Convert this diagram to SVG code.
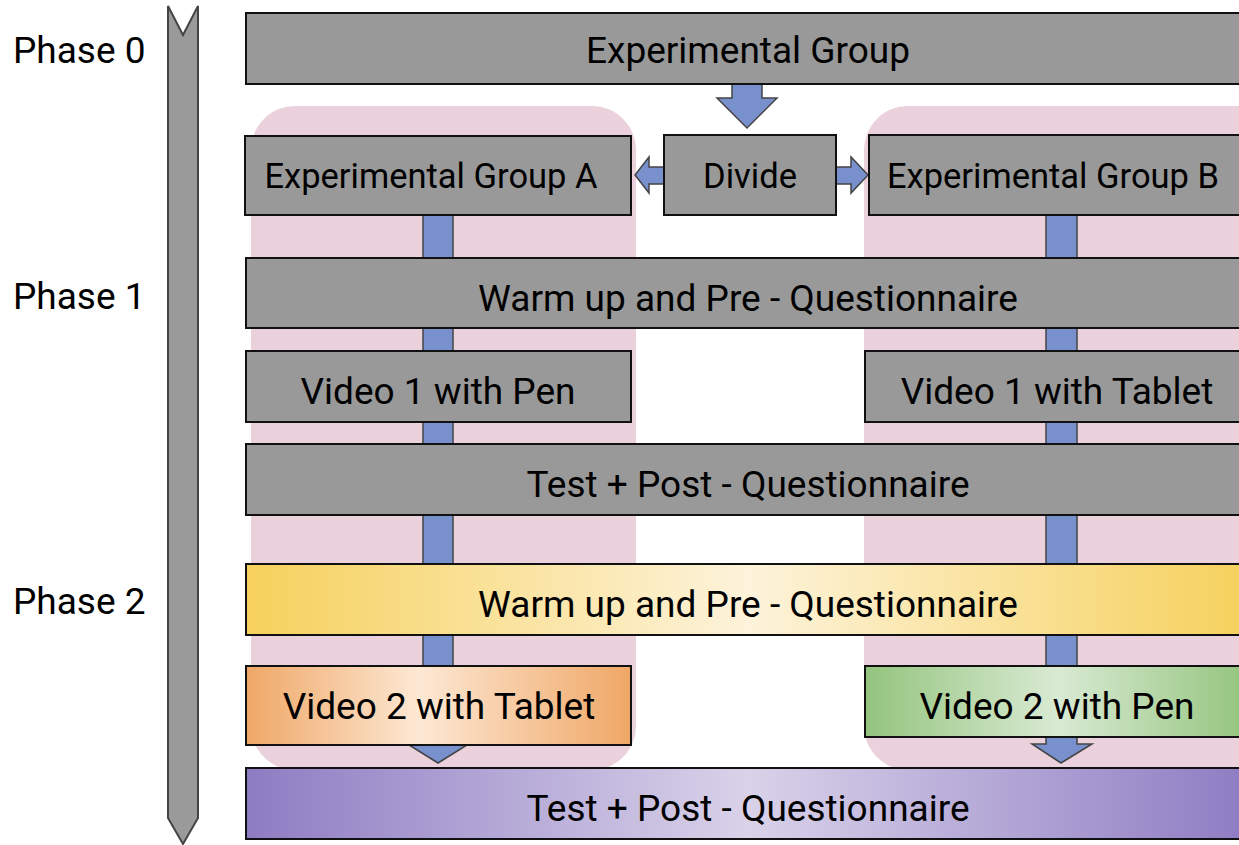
<svg xmlns="http://www.w3.org/2000/svg" width="1239" height="845" viewBox="0 0 1239 845">
<style>
.box{stroke:#111;stroke-width:2}
.gray{fill:#999999}
.lane{fill:#ead1dc}
.arr{fill:#7890cc;stroke:#444;stroke-width:1.5;stroke-linejoin:miter}
text{font-family:Roboto,"Liberation Sans",sans-serif;font-size:37px;fill:#000;text-anchor:middle;dominant-baseline:central}
.sm{font-size:34.5px}
.ph{text-anchor:start}
</style>
<defs>
<linearGradient id="gY" x1="0" x2="1" y1="0" y2="0">
<stop offset="0" stop-color="#f6d15c"/><stop offset="0.5" stop-color="#fdf3db"/><stop offset="1" stop-color="#f6d15c"/>
</linearGradient>
<linearGradient id="gO" x1="0" x2="1" y1="0" y2="0">
<stop offset="0" stop-color="#efa766"/><stop offset="0.45" stop-color="#fde8d4"/><stop offset="1" stop-color="#efa766"/>
</linearGradient>
<linearGradient id="gG" x1="0" x2="1" y1="0" y2="0">
<stop offset="0" stop-color="#93c47d"/><stop offset="0.5" stop-color="#d9ead3"/><stop offset="1" stop-color="#93c47d"/>
</linearGradient>
<linearGradient id="gP" x1="0" x2="1" y1="0" y2="0">
<stop offset="0" stop-color="#8e7cc3"/><stop offset="0.5" stop-color="#d9d2e9"/><stop offset="1" stop-color="#8e7cc3"/>
</linearGradient>
</defs>

<g id="timeline">
<path d="M168,6 L183,35 L198,6 L198,818 L183,844 L168,818 Z" fill="#9a9a9a" stroke="#444" stroke-width="2"/>
</g>
<g id="phase-labels">
<text class="ph" x="13" y="50">Phase 0</text>
<text class="ph" x="13" y="296">Phase 1</text>
<text class="ph" x="13" y="601">Phase 2</text>
</g>

<g id="lanes">
<rect class="lane" x="251" y="106" width="385" height="664" rx="44"/>
<rect class="lane" x="864" y="106" width="420" height="664" rx="44"/>
</g>

<g id="connectors">
<path class="arr" d="M732,84 L762,84 L762,98 L777,98 L747,128 L717,98 L732,98 Z"/>
<path class="arr" d="M664,167 L649,167 L649,157 L635,175 L649,193 L649,184 L664,184 Z"/>
<path class="arr" d="M836,167 L851,167 L851,157 L868,175 L851,193 L851,184 L836,184 Z"/>
<path class="arr" d="M423,215 L453,215 L453,745 L467,745 L438,763 L409,745 L423,745 Z"/>
<path class="arr" d="M1046,215 L1077,215 L1077,744 L1092,744 L1061,763 L1032,744 L1046,744 Z"/>
</g>

<g id="n-experimental-group"><rect class="box gray" x="246" y="13" width="1004" height="71"/><text x="748" y="50">Experimental Group</text></g>
<g id="n-group-a"><rect class="box gray" x="245" y="136" width="386" height="79"/><text class="sm" x="431" y="176">Experimental Group A</text></g>
<g id="n-divide"><rect class="box gray" x="664" y="135" width="172" height="80"/><text class="sm" x="750" y="176">Divide</text></g>
<g id="n-group-b"><rect class="box gray" x="869" y="135" width="381" height="80"/><text class="sm" x="1053" y="176">Experimental Group B</text></g>
<g id="n-warmup-1"><rect class="box gray" x="246" y="258" width="1004" height="70"/><text x="748" y="298">Warm up and Pre - Questionnaire</text></g>
<g id="n-video1-pen"><rect class="box gray" x="246" y="351" width="385" height="71"/><text x="438" y="391">Video 1 with Pen</text></g>
<g id="n-video1-tablet"><rect class="box gray" x="865" y="351" width="385" height="71"/><text x="1057" y="391">Video 1 with Tablet</text></g>
<g id="n-test-1"><rect class="box gray" x="246" y="444" width="1004" height="71"/><text x="748" y="484">Test + Post - Questionnaire</text></g>
<g id="n-warmup-2"><rect class="box" fill="url(#gY)" x="246" y="564" width="1004" height="71"/><text x="748" y="604">Warm up and Pre - Questionnaire</text></g>
<g id="n-video2-tablet"><rect class="box" fill="url(#gO)" x="246" y="666" width="385" height="79"/><text x="439" y="706">Video 2 with Tablet</text></g>
<g id="n-video2-pen"><rect class="box" fill="url(#gG)" x="865" y="666" width="385" height="71"/><text x="1057" y="706">Video 2 with Pen</text></g>
<g id="n-test-2"><rect class="box" fill="url(#gP)" x="246" y="768" width="1004" height="71"/><text x="748" y="808">Test + Post - Questionnaire</text></g>
</svg>
